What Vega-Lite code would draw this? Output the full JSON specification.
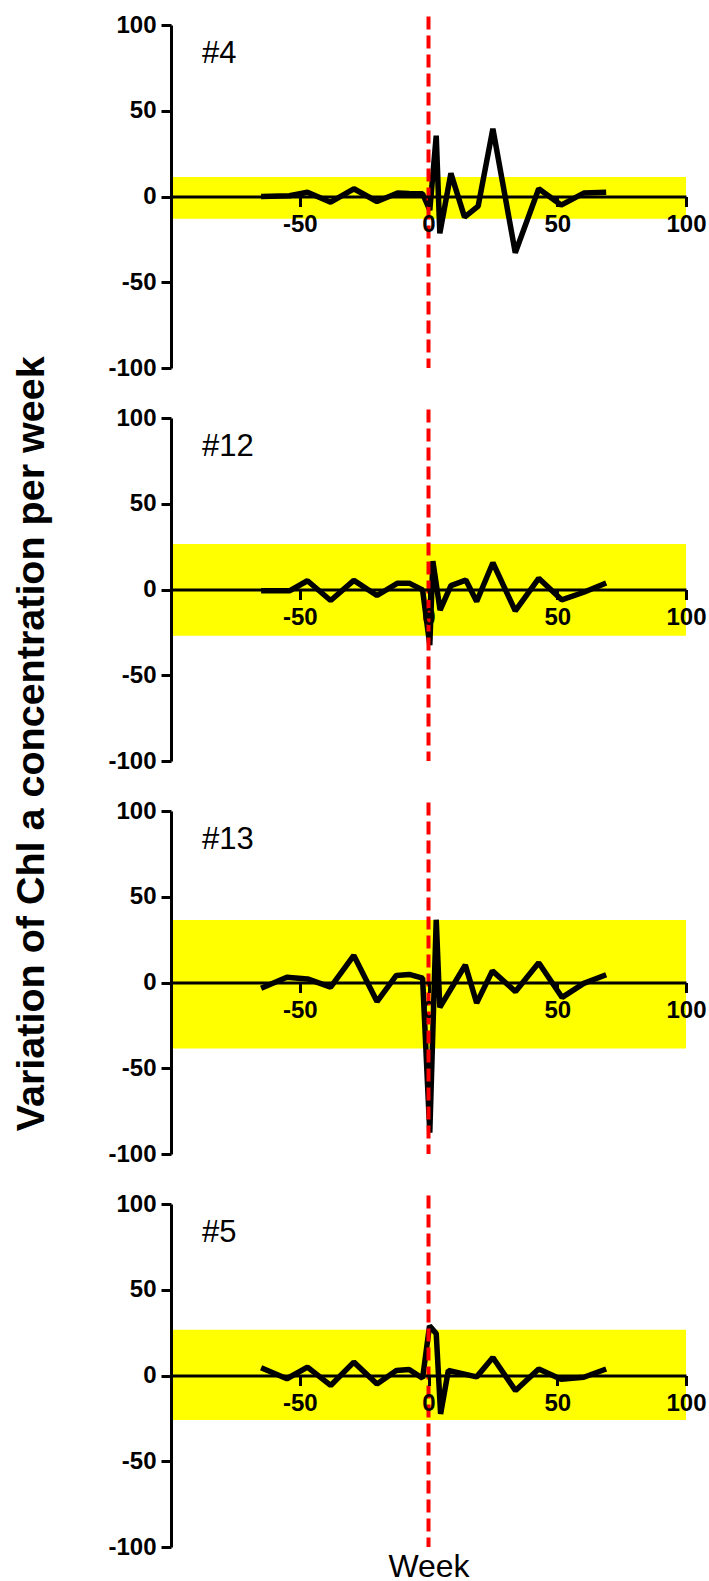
{
  "$schema": "https://vega.github.io/schema/vega-lite/v6.json",
  "padding": {"left": 12, "top": 13, "right": 0, "bottom": 0},
  "background": "white",
  "title": {"text": "Variation of Chl a concentration per week", "orient": "left", "anchor": "middle", "font": "Liberation Sans", "fontSize": 39.5, "fontWeight": "bold", "color": "black", "offset": 55, "dx": 54},
  "config": {
    "view": {"stroke": null},
    "axis": {"grid": false, "domainColor": "black", "tickColor": "black", "labelColor": "black", "domainWidth": 3, "tickWidth": 3, "tickSize": 10, "labelFont": "Liberation Sans", "labelFontWeight": "bold", "labelFontSize": 24, "zindex": 1, "titleColor": "black", "labelExpr": "'' + datum.value"}
  },
  "datasets": {
    "bands": [
      {"site": "#4", "lo": -13, "hi": 11.3},
      {"site": "#12", "lo": -27, "hi": 26.5},
      {"site": "#13", "lo": -38.5, "hi": 36.5},
      {"site": "#5", "lo": -26, "hi": 26.7}
    ],
    "series": [
      {"site": "#4", "week": -65, "value": 0},
      {"site": "#4", "week": -54, "value": 0.4},
      {"site": "#4", "week": -47, "value": 2.5},
      {"site": "#4", "week": -38, "value": -3.3},
      {"site": "#4", "week": -29, "value": 4.5},
      {"site": "#4", "week": -20, "value": -2.9},
      {"site": "#4", "week": -12, "value": 2},
      {"site": "#4", "week": -7.5, "value": 1.8},
      {"site": "#4", "week": -2.3, "value": 1.6},
      {"site": "#4", "week": 0.5, "value": -8},
      {"site": "#4", "week": 3, "value": 35.5},
      {"site": "#4", "week": 4.4, "value": -21.5},
      {"site": "#4", "week": 8.7, "value": 13.5},
      {"site": "#4", "week": 14, "value": -12},
      {"site": "#4", "week": 19.3, "value": -5.6},
      {"site": "#4", "week": 25, "value": 39.5},
      {"site": "#4", "week": 33.7, "value": -32.8},
      {"site": "#4", "week": 42.8, "value": 4.5},
      {"site": "#4", "week": 51.5, "value": -5},
      {"site": "#4", "week": 60.3, "value": 2},
      {"site": "#4", "week": 69, "value": 2.5},
      {"site": "#12", "week": -65, "value": -0.8},
      {"site": "#12", "week": -54, "value": -0.8},
      {"site": "#12", "week": -47, "value": 5.1},
      {"site": "#12", "week": -38, "value": -6.4},
      {"site": "#12", "week": -29, "value": 5.3},
      {"site": "#12", "week": -20, "value": -3.5},
      {"site": "#12", "week": -12, "value": 3.7},
      {"site": "#12", "week": -7.5, "value": 3.7},
      {"site": "#12", "week": -2.3, "value": -0.2},
      {"site": "#12", "week": 0.5, "value": -32.5},
      {"site": "#12", "week": 1.7, "value": 16.5},
      {"site": "#12", "week": 4.5, "value": -12},
      {"site": "#12", "week": 8.7, "value": 2.3},
      {"site": "#12", "week": 14.5, "value": 5.5},
      {"site": "#12", "week": 18.7, "value": -7},
      {"site": "#12", "week": 25, "value": 15.6},
      {"site": "#12", "week": 33.7, "value": -12.5},
      {"site": "#12", "week": 42.8, "value": 6.5},
      {"site": "#12", "week": 51.7, "value": -6},
      {"site": "#12", "week": 60.3, "value": -1.6},
      {"site": "#12", "week": 69, "value": 3.8},
      {"site": "#13", "week": -65, "value": -3.3},
      {"site": "#13", "week": -55, "value": 3.1},
      {"site": "#13", "week": -47, "value": 2.1},
      {"site": "#13", "week": -38, "value": -2.7},
      {"site": "#13", "week": -29, "value": 15.8},
      {"site": "#13", "week": -20, "value": -11.1},
      {"site": "#13", "week": -12.5, "value": 4.1},
      {"site": "#13", "week": -7.5, "value": 4.7},
      {"site": "#13", "week": -2.3, "value": 2.5},
      {"site": "#13", "week": 0.5, "value": -87.5},
      {"site": "#13", "week": 3, "value": 36.6},
      {"site": "#13", "week": 4.4, "value": -14.5},
      {"site": "#13", "week": 14.3, "value": 10.2},
      {"site": "#13", "week": 18.7, "value": -12},
      {"site": "#13", "week": 24.8, "value": 6.8},
      {"site": "#13", "week": 33.8, "value": -5.3},
      {"site": "#13", "week": 42.8, "value": 11.5},
      {"site": "#13", "week": 51.9, "value": -8.7},
      {"site": "#13", "week": 60.3, "value": -0.5},
      {"site": "#13", "week": 69, "value": 4.5},
      {"site": "#5", "week": -65, "value": 4.5},
      {"site": "#5", "week": -55, "value": -1.9},
      {"site": "#5", "week": -47, "value": 4.9},
      {"site": "#5", "week": -38, "value": -5.8},
      {"site": "#5", "week": -29, "value": 7.8},
      {"site": "#5", "week": -20, "value": -4.9},
      {"site": "#5", "week": -12.5, "value": 2.9},
      {"site": "#5", "week": -7.5, "value": 3.5},
      {"site": "#5", "week": -2.3, "value": -1.6},
      {"site": "#5", "week": 0.4, "value": 29},
      {"site": "#5", "week": 3, "value": 24.4},
      {"site": "#5", "week": 4.7, "value": -22.4},
      {"site": "#5", "week": 7.7, "value": 2.9},
      {"site": "#5", "week": 18.7, "value": -0.8},
      {"site": "#5", "week": 25, "value": 10.5},
      {"site": "#5", "week": 33.8, "value": -8.8},
      {"site": "#5", "week": 42.8, "value": 3.8},
      {"site": "#5", "week": 51.5, "value": -2.2},
      {"site": "#5", "week": 60.3, "value": -1},
      {"site": "#5", "week": 69, "value": 3.8}
    ]
  },
  "spacing": 50,
  "bounds": "flush",
  "vconcat": [
    {
      "width": 515, "height": 343,
      "layer": [
        {"data": {"name": "bands"}, "transform": [{"filter": "datum.site === '#4'"}], "mark": {"type": "rect", "color": "#ffff00"},
         "encoding": {
           "x": {"datum": -100, "type": "quantitative", "scale": {"domain": [-100, 100]}, "axis": {"values": [-50, 0, 50, 100], "offset": -171.5, "labelPadding": 6, "title": null, "labelFlush": false, "zindex": 1}},
           "x2": {"datum": 100},
           "y": {"field": "hi", "type": "quantitative", "scale": {"domain": [-100, 100]}, "axis": {"values": [-100, -50, 0, 50, 100], "labelPadding": 5, "title": null, "zindex": 1}},
           "y2": {"field": "lo"}}},
        {"data": {"name": "series"}, "transform": [{"filter": "datum.site === '#4'"}], "mark": {"type": "line", "color": "black", "strokeWidth": 5.5, "strokeJoin": "bevel"},
         "encoding": {"x": {"field": "week", "type": "quantitative"}, "y": {"field": "value", "type": "quantitative"}}},
        {"data": {"name": "bands"}, "transform": [{"filter": "datum.site === '#4'"}], "mark": {"type": "rule", "color": "#ff0000", "strokeWidth": 4, "strokeDash": [13, 6]},
         "encoding": {"x": {"datum": 0}, "y": {"datum": 105}, "y2": {"datum": -100}}},
        {"data": {"name": "bands"}, "transform": [{"filter": "datum.site === '#4'"}], "mark": {"type": "text", "align": "left", "baseline": "alphabetic", "font": "Liberation Sans", "fontSize": 31, "color": "black"},
         "encoding": {"x": {"datum": -88}, "y": {"datum": 77.7}, "text": {"field": "site"}}}
      ]
    },
    {
      "width": 515, "height": 343,
      "layer": [
        {"data": {"name": "bands"}, "transform": [{"filter": "datum.site === '#12'"}], "mark": {"type": "rect", "color": "#ffff00"},
         "encoding": {
           "x": {"datum": -100, "type": "quantitative", "scale": {"domain": [-100, 100]}, "axis": {"values": [-50, 0, 50, 100], "offset": -171.5, "labelPadding": 6, "title": null, "labelFlush": false, "zindex": 1}},
           "x2": {"datum": 100},
           "y": {"field": "hi", "type": "quantitative", "scale": {"domain": [-100, 100]}, "axis": {"values": [-100, -50, 0, 50, 100], "labelPadding": 5, "title": null, "zindex": 1}},
           "y2": {"field": "lo"}}},
        {"data": {"name": "series"}, "transform": [{"filter": "datum.site === '#12'"}], "mark": {"type": "line", "color": "black", "strokeWidth": 5.5, "strokeJoin": "bevel"},
         "encoding": {"x": {"field": "week", "type": "quantitative"}, "y": {"field": "value", "type": "quantitative"}}},
        {"data": {"name": "bands"}, "transform": [{"filter": "datum.site === '#12'"}], "mark": {"type": "rule", "color": "#ff0000", "strokeWidth": 4, "strokeDash": [13, 6]},
         "encoding": {"x": {"datum": 0}, "y": {"datum": 105}, "y2": {"datum": -100}}},
        {"data": {"name": "bands"}, "transform": [{"filter": "datum.site === '#12'"}], "mark": {"type": "text", "align": "left", "baseline": "alphabetic", "font": "Liberation Sans", "fontSize": 31, "color": "black"},
         "encoding": {"x": {"datum": -88}, "y": {"datum": 77.7}, "text": {"field": "site"}}}
      ]
    },
    {
      "width": 515, "height": 343,
      "layer": [
        {"data": {"name": "bands"}, "transform": [{"filter": "datum.site === '#13'"}], "mark": {"type": "rect", "color": "#ffff00"},
         "encoding": {
           "x": {"datum": -100, "type": "quantitative", "scale": {"domain": [-100, 100]}, "axis": {"values": [-50, 0, 50, 100], "offset": -171.5, "labelPadding": 6, "title": null, "labelFlush": false, "zindex": 1}},
           "x2": {"datum": 100},
           "y": {"field": "hi", "type": "quantitative", "scale": {"domain": [-100, 100]}, "axis": {"values": [-100, -50, 0, 50, 100], "labelPadding": 5, "title": null, "zindex": 1}},
           "y2": {"field": "lo"}}},
        {"data": {"name": "series"}, "transform": [{"filter": "datum.site === '#13'"}], "mark": {"type": "line", "color": "black", "strokeWidth": 5.5, "strokeJoin": "bevel"},
         "encoding": {"x": {"field": "week", "type": "quantitative"}, "y": {"field": "value", "type": "quantitative"}}},
        {"data": {"name": "bands"}, "transform": [{"filter": "datum.site === '#13'"}], "mark": {"type": "rule", "color": "#ff0000", "strokeWidth": 4, "strokeDash": [13, 6]},
         "encoding": {"x": {"datum": 0}, "y": {"datum": 105}, "y2": {"datum": -100}}},
        {"data": {"name": "bands"}, "transform": [{"filter": "datum.site === '#13'"}], "mark": {"type": "text", "align": "left", "baseline": "alphabetic", "font": "Liberation Sans", "fontSize": 31, "color": "black"},
         "encoding": {"x": {"datum": -88}, "y": {"datum": 77.7}, "text": {"field": "site"}}}
      ]
    },
    {
      "width": 515, "height": 343,
      "layer": [
        {"data": {"name": "bands"}, "transform": [{"filter": "datum.site === '#5'"}], "mark": {"type": "rect", "color": "#ffff00"},
         "encoding": {
           "x": {"datum": -100, "type": "quantitative", "scale": {"domain": [-100, 100]}, "axis": {"values": [-50, 0, 50, 100], "offset": -171.5, "labelPadding": 6, "title": "Week", "titleFont": "Liberation Sans", "titleFontSize": 32, "titleFontWeight": "normal", "titleBaseline": "alphabetic", "titleY": 201, "labelFlush": false, "zindex": 1}},
           "x2": {"datum": 100},
           "y": {"field": "hi", "type": "quantitative", "scale": {"domain": [-100, 100]}, "axis": {"values": [-100, -50, 0, 50, 100], "labelPadding": 5, "title": null, "zindex": 1}},
           "y2": {"field": "lo"}}},
        {"data": {"name": "series"}, "transform": [{"filter": "datum.site === '#5'"}], "mark": {"type": "line", "color": "black", "strokeWidth": 5.5, "strokeJoin": "bevel"},
         "encoding": {"x": {"field": "week", "type": "quantitative"}, "y": {"field": "value", "type": "quantitative"}}},
        {"data": {"name": "bands"}, "transform": [{"filter": "datum.site === '#5'"}], "mark": {"type": "rule", "color": "#ff0000", "strokeWidth": 4, "strokeDash": [13, 6]},
         "encoding": {"x": {"datum": 0}, "y": {"datum": 105}, "y2": {"datum": -100}}},
        {"data": {"name": "bands"}, "transform": [{"filter": "datum.site === '#5'"}], "mark": {"type": "text", "align": "left", "baseline": "alphabetic", "font": "Liberation Sans", "fontSize": 31, "color": "black"},
         "encoding": {"x": {"datum": -88}, "y": {"datum": 77.7}, "text": {"field": "site"}}}
      ]
    }
  ]
}
